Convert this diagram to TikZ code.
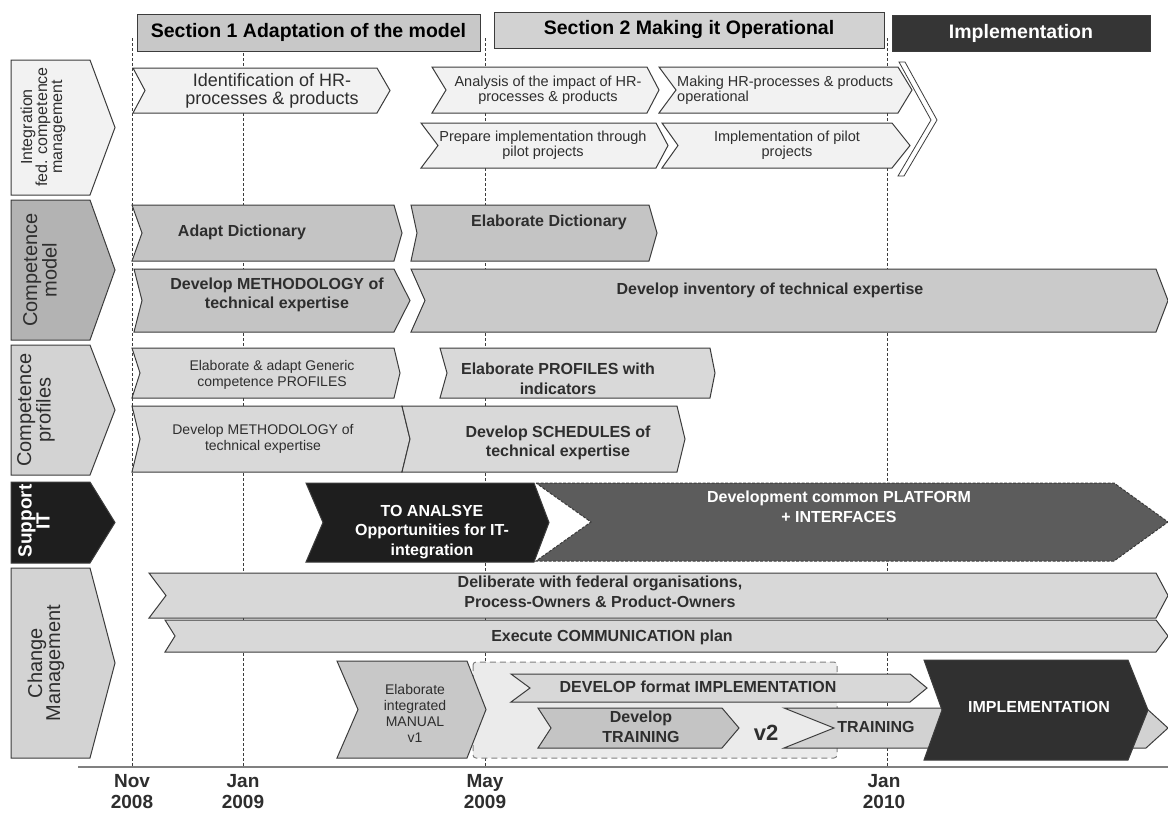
\documentclass[tikz,border=0pt]{standalone}
\usepackage{fontspec}
\setmainfont{Liberation Sans}
\definecolor{edge}{HTML}{3C3C3C}
\definecolor{ink}{HTML}{2E2E2E}
\definecolor{rowA}{HTML}{F2F2F2}
\definecolor{rowB}{HTML}{C4C4C4}
\definecolor{lblB}{HTML}{B3B3B3}
\definecolor{rowC}{HTML}{D9D9D9}
\definecolor{lblC}{HTML}{D3D3D3}
\definecolor{darkbox}{HTML}{1E1E1E}
\definecolor{platf}{HTML}{5C5C5C}
\definecolor{rowE}{HTML}{D8D8D8}
\definecolor{zone}{HTML}{EBEBEB}
\definecolor{hdrA}{HTML}{C8C8C8}
\definecolor{hdrB}{HTML}{D2D2D2}
\newcommand{\fsz}[2]{\fontsize{#1}{#2}\selectfont}
% chevron: style, left, right (tip), top, bottom, notch, tip depth
\newcommand{\chevbox}[7]{%
  \draw[#1] (#2,#4) -- ({#3-#7},#4) -- (#3,{(#4+#5)/2}) -- ({#3-#7},#5)
    -- (#2,#5) -- ({#2+#6},{(#4+#5)/2}) -- cycle;}
\begin{document}
\begin{tikzpicture}[x=1pt, y=-1pt,
  box/.style = {draw=edge, line width=1pt, line join=miter},
  txt/.style = {text=ink, align=center, inner sep=0pt},
  hdr/.style = {draw=edge, line width=1pt, inner sep=0pt, font=\bfseries\fsz{19.5}{22}},
  big/.style = {txt, font=\fsz{18}{18}},
  sm/.style = {txt, font=\fsz{14.5}{15}},
  tiny/.style = {txt, font=\fsz{14}{16}},
  bl/.style = {txt, font=\bfseries\fsz{16}{19.5}},
  wbl/.style = {bl, text=white},
  rowlbl/.style = {txt, rotate=90, font=\fsz{20}{18}},
  date/.style = {txt, font=\bfseries\fsz{19}{21}},
  vline/.style = {draw=edge, line width=0.7pt, dash pattern=on 3pt off 2pt}]

\useasboundingbox (0,0) rectangle (1168,814);
\fill[white] (0,0) rectangle (1168,814);

% time grid
\foreach \xx in {132,243,485,887}
  \draw[vline] (\xx,38) -- (\xx,767);
\draw[draw=gray, line width=1.3pt] (78,767) -- (1168,767);

% section headers
\node[hdr, fill=hdrA, minimum width=343pt, minimum height=37pt] (secA) at (308.5,32.5) {Section 1 Adaptation of the model};
\node[hdr, fill=hdrB, minimum width=390pt, minimum height=36pt] (secB) at (689,30) {Section 2 Making it Operational};
\node[hdr, fill=darkbox!90!white, text=white, minimum width=258pt, minimum height=36pt] (secC) at (1021,33) {Implementation};

% row 1
\chevbox{box, fill=rowA}{11}{115}{60}{195}{0}{25}
\node[rowlbl, font=\fsz{16}{15}] (lblInteg) at (43,127) {Integration\\fed. competence\\management};
\chevbox{box, fill=rowA}{133}{390}{68}{113}{12}{13}
\node[big] (ident) at (272,91) {Identification of HR-\\processes \& products};
\chevbox{box, fill=rowA}{432}{659}{67}{113}{14}{12}
\node[sm] (analysis) at (548,90) {Analysis of the impact of HR-\\processes \& products};
\chevbox{box, fill=rowA}{659}{912}{67}{113}{17}{14}
\node[sm, anchor=west, align=left] (making) at (677,90) {Making HR-processes \& products\\operational};
\chevbox{box, fill=rowA}{421}{668}{123}{168}{17}{12}
\node[sm] (prepare) at (543,145) {Prepare implementation through\\pilot projects};
\chevbox{box, fill=rowA}{662}{910}{123}{168}{16}{18}
\node[sm] (pilot) at (787,145) {Implementation of pilot\\projects};
\draw[box, line width=0.8pt] (899,62) -- (905,62) -- (937,120) -- (904,176) -- (898,176) -- (931,120) -- cycle;

% row 2
\chevbox{box, fill=lblB}{11}{115}{200}{340}{0}{25}
\node[rowlbl] (lblModel) at (40,270) {Competence\\model};
\chevbox{box, fill=rowB}{132}{402}{205}{261}{10}{8}
\node[bl] (adapt) at (242,232) {Adapt Dictionary};
\chevbox{box, fill=rowB}{411}{657}{205}{261}{6}{8}
\node[bl] (elabdict) at (549,222) {Elaborate Dictionary};
\chevbox{box, fill=rowB}{134}{410}{269}{332}{8}{16}
\node[bl] (methmodel) at (277,295) {Develop METHODOLOGY of\\technical expertise};
\chevbox{box, fill=rowB!90!white}{411}{1168}{269}{332}{14}{12}
\node[bl] (inventory) at (770,290) {Develop inventory of technical expertise};

% row 3
\chevbox{box, fill=lblC}{11}{115}{345}{475}{0}{25}
\node[rowlbl] (lblProf) at (36,410) {Competence\\profiles};
\chevbox{box, fill=rowC}{132}{400}{348}{398}{8}{6}
\node[tiny] (elabgen) at (272,375) {Elaborate \& adapt Generic\\competence PROFILES};
\chevbox{box, fill=rowC}{440}{715}{348}{398}{7}{5}
\node[bl] (elabprof) at (558,379) {Elaborate PROFILES with\\indicators};
\chevbox{box, fill=rowC}{132}{410}{406}{472}{8}{8}
\node[tiny] (methprof) at (263,439) {Develop METHODOLOGY of\\technical expertise};
\chevbox{box, fill=rowC}{402}{685}{406}{472}{8}{8}
\node[bl] (sched) at (558,443) {Develop SCHEDULES of\\technical expertise};

% row 4
\chevbox{box, fill=darkbox}{11}{115}{482}{563}{0}{25}
\node[rowlbl, text=white, font=\bfseries\fsz{19}{14}] (lblSupp) at (34,521) {Support\\IT};
\chevbox{box, fill=darkbox}{306}{549}{483}{562}{17}{15}
\node[wbl] (analyse) at (432,532) {TO ANALSYE\\Opportunities for IT-\\integration};
\chevbox{box, fill=platf, dash pattern=on 3pt off 1.5pt}{536}{1168}{483}{561}{55}{54}
\node[wbl] (platform) at (839,507) {Development common PLATFORM\\+ INTERFACES};

% row 5
\chevbox{box, fill=lblC}{11}{115}{568}{758}{0}{25}
\node[rowlbl] (lblChange) at (46,663) {Change\\Management};
\chevbox{box, fill=rowE}{149}{1168}{573}{618}{17}{12}
\node[bl] (deliberate) at (600,592) {Deliberate with federal organisations,\\Process-Owners \& Product-Owners};
\chevbox{box, fill=rowE}{165}{1168}{620}{652}{10}{12}
\node[bl] (execute) at (612,637) {Execute COMMUNICATION plan};
\draw[draw=gray, fill=zone, line width=1pt, dash pattern=on 6pt off 4pt, rounded corners=3pt] (473,662) rectangle (837,758);
\chevbox{box, fill=hdrA}{337}{486}{661}{758}{21}{19}
\node[tiny] (manual) at (415,713) {Elaborate\\integrated\\MANUAL\\v1};
\chevbox{box, fill=rowE}{511}{927}{674}{702}{19}{17}
\node[bl] (devformat) at (698,687) {DEVELOP format IMPLEMENTATION};
\chevbox{box, fill=rowB}{538}{739}{708}{748}{13}{17}
\node[bl] (devtraining) at (641,727) {Develop\\TRAINING};
\node[txt, font=\bfseries\fsz{22}{22}] (vtwo) at (766,733) {v2};
\chevbox{box, fill=hdrB}{784}{1168}{708}{748}{50}{22}
\node[bl] (training) at (876,727) {TRAINING};
\chevbox{box, fill=darkbox!92!white}{924}{1148}{660}{760}{18}{20}
\node[wbl] (implem) at (1039,707) {IMPLEMENTATION};

% time axis labels
\node[date] (nov08) at (132,792) {Nov\\2008};
\node[date] (jan09) at (243,792) {Jan\\2009};
\node[date] (may09) at (485,792) {May\\2009};
\node[date] (jan10) at (884,792) {Jan\\2010};
\end{tikzpicture}
\end{document}
